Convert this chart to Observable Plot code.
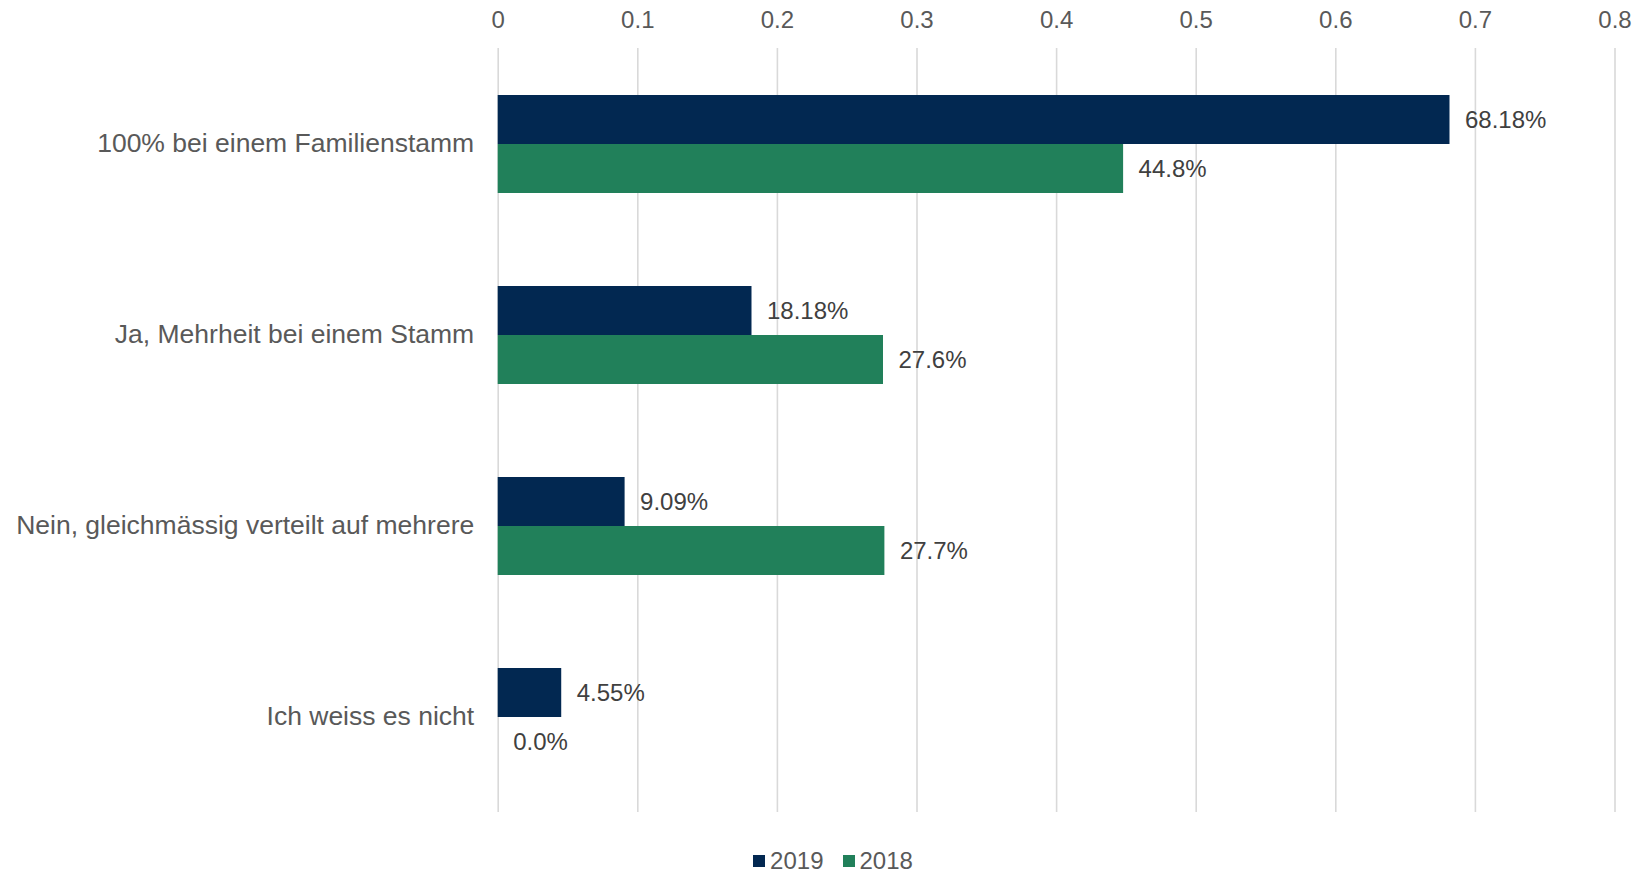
<!DOCTYPE html>
<html>
<head>
<meta charset="utf-8">
<script src="https://cdn.jsdelivr.net/npm/d3@7"></script>
<script src="https://cdn.jsdelivr.net/npm/@observablehq/plot@0.6"></script>
<style>
  html, body { margin: 0; padding: 0; background: #fff; }
  #chart svg { display: block; }
  .legend { display: flex; justify-content: center; align-items: center; gap: 0; padding-top: 14px; padding-left: 41px;
            font-family: "Liberation Sans", Arial, sans-serif; font-size: 24px; line-height: 24px; color: #595959; }
  .legend .sw { display: inline-block; width: 12px; height: 12px; margin-right: 5px; }
  .legend .item { display: flex; align-items: center; margin-right: 19px; }
</style>
</head>
<body>
<div id="chart"></div>
<div class="legend" id="legend"></div>
<script>
const categories = [
  "100% bei einem Familienstamm",
  "Ja, Mehrheit bei einem Stamm",
  "Nein, gleichmässig verteilt auf mehrere",
  "Ich weiss es nicht"
];
const series = ["2019", "2018"];
const values2019 = [0.6818, 0.1818, 0.0909, 0.0455];
const values2018 = [0.448, 0.276, 0.277, 0.0];
const labels2019 = ["68.18%", "18.18%", "9.09%", "4.55%"];
const labels2018 = ["44.8%", "27.6%", "27.7%", "0.0%"];
const xTicks = [0, 0.1, 0.2, 0.3, 0.4, 0.5, 0.6, 0.7, 0.8];
const tickLabels = ["0", "0.1", "0.2", "0.3", "0.4", "0.5", "0.6", "0.7", "0.8"];
const colors = ["#022851", "#21805a"];

const rows = [];
categories.forEach((c, i) => {
  rows.push({category: c, year: "2019", value: values2019[i], label: labels2019[i]});
  rows.push({category: c, year: "2018", value: values2018[i], label: labels2018[i]});
});

const plot = Plot.plot({
  width: 1644,
  height: 835,
  marginTop: 47,
  marginBottom: 23,
  marginLeft: 497.7,
  marginRight: 29.5,
  style: {fontFamily: "'Liberation Sans', Arial, sans-serif", background: "#fff"},
  x: {domain: [0, 0.8], axis: null},
  y: {domain: series, paddingInner: 0, paddingOuter: 0.93, axis: null},
  fy: {domain: categories, padding: 0, label: null},
  color: {domain: series, range: colors},
  marks: [
    Plot.gridX(xTicks, {stroke: "#d9d9d9", strokeOpacity: 1, strokeWidth: 1.6}),
    Plot.axisX({anchor: "top", ticks: xTicks, tickFormat: (d) => tickLabels[xTicks.indexOf(d)], tickSize: 0, tickPadding: 21, fontSize: 24, fill: "#595959", label: null}),
    Plot.axisFy({anchor: "left", tickSize: 0, tickPadding: 24, fontSize: 26.5, fill: "#595959", label: null}),
    Plot.barX(rows, {x: "value", y: "year", fy: "category", fill: "year"}),
    Plot.text(rows, {x: "value", y: "year", fy: "category", text: "label", textAnchor: "start", dx: 15, fontSize: 24, fill: "#404040"})
  ]
});
document.getElementById("chart").appendChild(plot);

const legend = document.getElementById("legend");
series.forEach((s, i) => {
  const item = document.createElement("span");
  item.className = "item";
  const sw = document.createElement("span");
  sw.className = "sw";
  sw.style.background = colors[i];
  item.appendChild(sw);
  item.appendChild(document.createTextNode(s));
  legend.appendChild(item);
});
</script>
</body>
</html>
